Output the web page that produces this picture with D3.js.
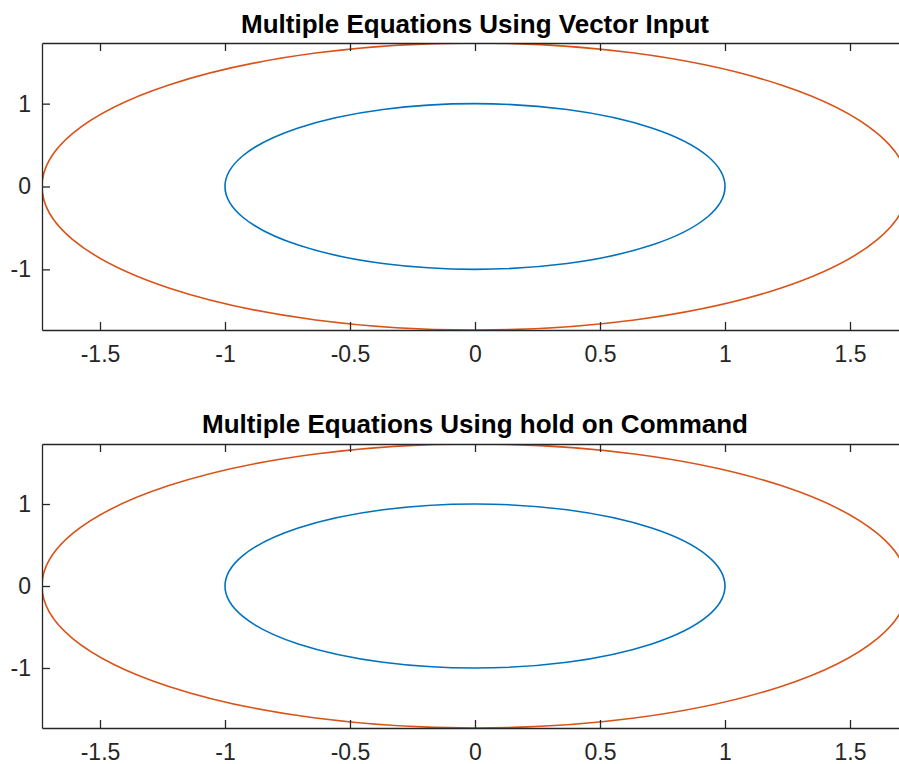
<!DOCTYPE html>
<html>
<head>
<meta charset="utf-8">
<script src="https://cdn.jsdelivr.net/npm/d3@7"></script>
<style>
  html, body { margin: 0; padding: 0; background: #fff; }
  svg { display: block; font-family: "Liberation Sans", Arial, Helvetica, sans-serif; }
</style>
</head>
<body>
<svg id="chart" width="899" height="764"></svg>
<script>
// ---- data ----
const titles = ["Multiple Equations Using Vector Input", "Multiple Equations Using hold on Command"];
const curveNames = ["x^2 + y^2 = 1", "x^2 + y^2 = 3"];
const curveRadii = [1, 1.732];
const curveColors = ["#0072BD", "#D95319"];
const xLimits = [-1.732, 1.732];
const yLimits = [-1.732, 1.732];
const xTicks = [-1.5, -1, -0.5, 0, 0.5, 1, 1.5];
const xTickLabels = ["-1.5", "-1", "-0.5", "0", "0.5", "1", "1.5"];
const yTicks = [-1, 0, 1];
const yTickLabels = ["-1", "0", "1"];

// ---- layout ----
const svg = d3.select("#chart");
const panels = [
  { top: 43, bottom: 330, titleY: 33 },
  { top: 444, bottom: 728, titleY: 433 }
];
const left = 42, right = 908;
const axisColor = "#262626";

const x = d3.scaleLinear().domain(xLimits).range([left, right]);

panels.forEach((p, i) => {
  const y = d3.scaleLinear().domain(yLimits).range([p.bottom, p.top]);
  const g = svg.append("g");

  const clipId = "clip" + i;
  svg.append("clipPath").attr("id", clipId)
    .append("rect").attr("x", left).attr("y", p.top)
    .attr("width", right - left).attr("height", p.bottom - p.top);

  // curves
  g.append("g").attr("clip-path", `url(#${clipId})`)
    .selectAll("ellipse")
    .data(curveRadii.map((r, k) => ({ r, color: curveColors[k], name: curveNames[k] })))
    .join("ellipse")
    .attr("cx", x(0))
    .attr("cy", y(0))
    .attr("rx", d => x(d.r) - x(0))
    .attr("ry", d => y(0) - y(d.r))
    .attr("fill", "none")
    .attr("stroke", d => d.color)
    .attr("stroke-width", 1.6);

  const fmtX = d => xTickLabels[xTicks.indexOf(d)];
  const fmtY = d => yTickLabels[yTicks.indexOf(d)];

  // bottom axis
  const gb = g.append("g").attr("transform", `translate(0,${p.bottom})`)
    .call(d3.axisBottom(x).tickValues(xTicks).tickFormat(fmtX)
      .tickSizeInner(-8).tickSizeOuter(0).tickPadding(16));
  // top axis
  const gt = g.append("g").attr("transform", `translate(0,${p.top})`)
    .call(d3.axisTop(x).tickValues(xTicks).tickFormat("")
      .tickSizeInner(-8).tickSizeOuter(0));
  // left axis
  const gl = g.append("g").attr("transform", `translate(${left},0)`)
    .call(d3.axisLeft(y).tickValues(yTicks).tickFormat(fmtY)
      .tickSizeInner(-8).tickSizeOuter(0).tickPadding(11));
  // right axis
  const gr = g.append("g").attr("transform", `translate(${right},0)`)
    .call(d3.axisRight(y).tickValues(yTicks).tickFormat("")
      .tickSizeInner(-8).tickSizeOuter(0));

  [gb, gt, gl, gr].forEach(a => {
    a.select(".domain").attr("stroke", axisColor).attr("stroke-width", 1.3);
    a.selectAll(".tick line").attr("stroke", axisColor).attr("stroke-width", 1.3);
    a.selectAll("text").attr("fill", axisColor)
      .style("font-size", "23px").style("font-family", "'Liberation Sans', Arial, sans-serif");
  });

  // title
  svg.append("text")
    .attr("x", (left + right) / 2)
    .attr("y", p.titleY)
    .attr("text-anchor", "middle")
    .attr("fill", "#000")
    .style("font-weight", "bold")
    .style("font-size", "26px")
    .text(titles[i]);
});
</script>
</body>
</html>
